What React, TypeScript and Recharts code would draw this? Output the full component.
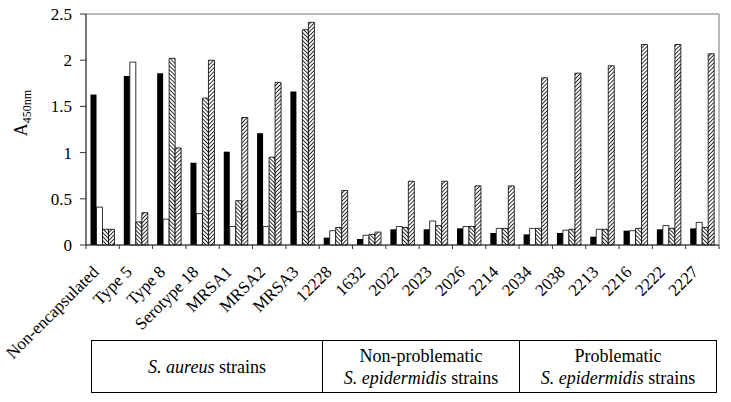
import { BarChart, Bar, XAxis, YAxis, ReferenceArea } from "recharts"

const categories = [
  "Non-encapsulated", "Type 5", "Type 8", "Serotype 18", "MRSA1", "MRSA2", "MRSA3",
  "12228", "1632", "2022", "2023", "2026", "2214",
  "2034", "2038", "2213", "2216", "2222", "2227",
]
const solid = [1.63, 1.83, 1.86, 0.89, 1.01, 1.21, 1.66, 0.08, 0.065, 0.17, 0.17, 0.18, 0.13, 0.115, 0.13, 0.09, 0.155, 0.17, 0.18]
const open = [0.41, 1.98, 0.28, 0.34, 0.2, 0.2, 0.36, 0.155, 0.105, 0.2, 0.26, 0.2, 0.18, 0.18, 0.16, 0.17, 0.155, 0.21, 0.245]
const hatchA = [0.17, 0.25, 2.02, 1.59, 0.48, 0.95, 2.33, 0.19, 0.115, 0.19, 0.21, 0.2, 0.18, 0.18, 0.17, 0.17, 0.18, 0.18, 0.19]
const hatchB = [0.17, 0.35, 1.05, 2.0, 1.38, 1.76, 2.41, 0.59, 0.14, 0.69, 0.69, 0.64, 0.64, 1.81, 1.86, 1.94, 2.17, 2.17, 2.07]
const yTicks = [0, 0.5, 1, 1.5, 2, 2.5]

const data = categories.map((name, i) => ({
  name,
  solid: solid[i],
  open: open[i],
  hatchA: hatchA[i],
  hatchB: hatchB[i],
}))

const WIDTH = 731
const HEIGHT = 402
const LEFT = 86
const RIGHT = 12
const BAND = (WIDTH - LEFT - RIGHT) / categories.length
const FONT = "'Liberation Serif', 'Times New Roman', serif"

// tick marks sit on the category boundaries, labels are rotated
const CategoryTick = (props: any) => {
  const { x, y, payload, index } = props
  const half = BAND / 2
  const lx = x - 3
  const ly = y + 28
  return (
    <g>
      <line x1={x - half} x2={x - half} y1={y} y2={y + 4} stroke="#333" />
      {index === categories.length - 1 && (
        <line x1={x + half} x2={x + half} y1={y} y2={y + 4} stroke="#333" />
      )}
      <text
        x={lx}
        y={ly}
        textAnchor="end"
        fontSize={17}
        fontFamily={FONT}
        fill="#000"
        transform={`rotate(-45, ${lx}, ${ly})`}
      >
        {payload.value}
      </text>
    </g>
  )
}

const YLabel = () => (
  <text
    x={27}
    y={113}
    textAnchor="middle"
    fontFamily={FONT}
    fill="#000"
    transform="rotate(-90, 27, 113)"
  >
    <tspan fontSize={18}>A</tspan>
    <tspan fontSize={12} dy={4}>450nm</tspan>
  </text>
)

const groups = [
  { width: 230, lines: [<><i>S. aureus</i> strains</>] },
  { width: 196, lines: [<>Non-problematic</>, <><i>S. epidermidis</i> strains</>] },
  { width: 198, lines: [<>Problematic</>, <><i>S. epidermidis</i> strains</>] },
]

export default function App() {
  return (
    <div style={{ position: "absolute", left: 0, top: 0, width: WIDTH, height: HEIGHT, background: "#fff" }}>
      <BarChart
        width={WIDTH}
        height={HEIGHT}
        data={data}
        margin={{ top: 14, right: RIGHT, left: 0, bottom: 37 }}
        barCategoryGap={4.5}
        barGap={0}
      >
        <defs>
          <pattern id="hatchA" width={2.8} height={2.8} patternUnits="userSpaceOnUse" patternTransform="rotate(-45)">
            <rect width={2.8} height={2.8} fill="#fff" />
            <line x1={0} y1={0} x2={0} y2={2.8} stroke="#000" strokeWidth={1.6} />
          </pattern>
          <pattern id="hatchB" width={2.8} height={2.8} patternUnits="userSpaceOnUse" patternTransform="rotate(45)">
            <rect width={2.8} height={2.8} fill="#fff" />
            <line x1={0} y1={0} x2={0} y2={2.8} stroke="#000" strokeWidth={1.6} />
          </pattern>
        </defs>
        <ReferenceArea y1={0} y2={2.5} fill="none" stroke="#777" strokeWidth={1} ifOverflow="visible" />
        <XAxis
          dataKey="name"
          interval={0}
          height={120}
          tickSize={0}
          tickMargin={0}
          tickLine={false}
          axisLine={{ stroke: "#333" }}
          tick={<CategoryTick />}
        />
        <YAxis
          width={LEFT}
          domain={[0, 2.5]}
          ticks={yTicks}
          tickSize={6}
          tickMargin={8}
          axisLine={{ stroke: "#333" }}
          tickLine={{ stroke: "#333" }}
          tick={{ fontSize: 17, fontFamily: FONT, fill: "#000" }}
          label={{ content: () => <YLabel /> }}
        />
        <Bar dataKey="solid" fill="#000" isAnimationActive={false} />
        <Bar dataKey="open" fill="#fff" stroke="#000" strokeWidth={0.8} isAnimationActive={false} />
        <Bar dataKey="hatchA" fill="url(#hatchA)" stroke="#000" strokeWidth={0.8} isAnimationActive={false} />
        <Bar dataKey="hatchB" fill="url(#hatchB)" stroke="#000" strokeWidth={0.8} isAnimationActive={false} />
      </BarChart>
      <div
        style={{
          position: "absolute",
          left: 91,
          top: 340,
          width: 626,
          height: 53,
          border: "1px solid #000",
          boxSizing: "border-box",
          display: "flex",
          fontFamily: FONT,
          fontSize: 18,
          lineHeight: "22px",
        }}
      >
        {groups.map((g, i) => (
          <div
            key={i}
            style={{
              width: g.width,
              flex: i === groups.length - 1 ? 1 : "none",
              borderRight: i < groups.length - 1 ? "1px solid #000" : "none",
              display: "flex",
              flexDirection: "column",
              alignItems: "center",
              justifyContent: "center",
            }}
          >
            {g.lines.map((l, j) => (
              <div key={j}>{l}</div>
            ))}
          </div>
        ))}
      </div>
    </div>
  )
}
